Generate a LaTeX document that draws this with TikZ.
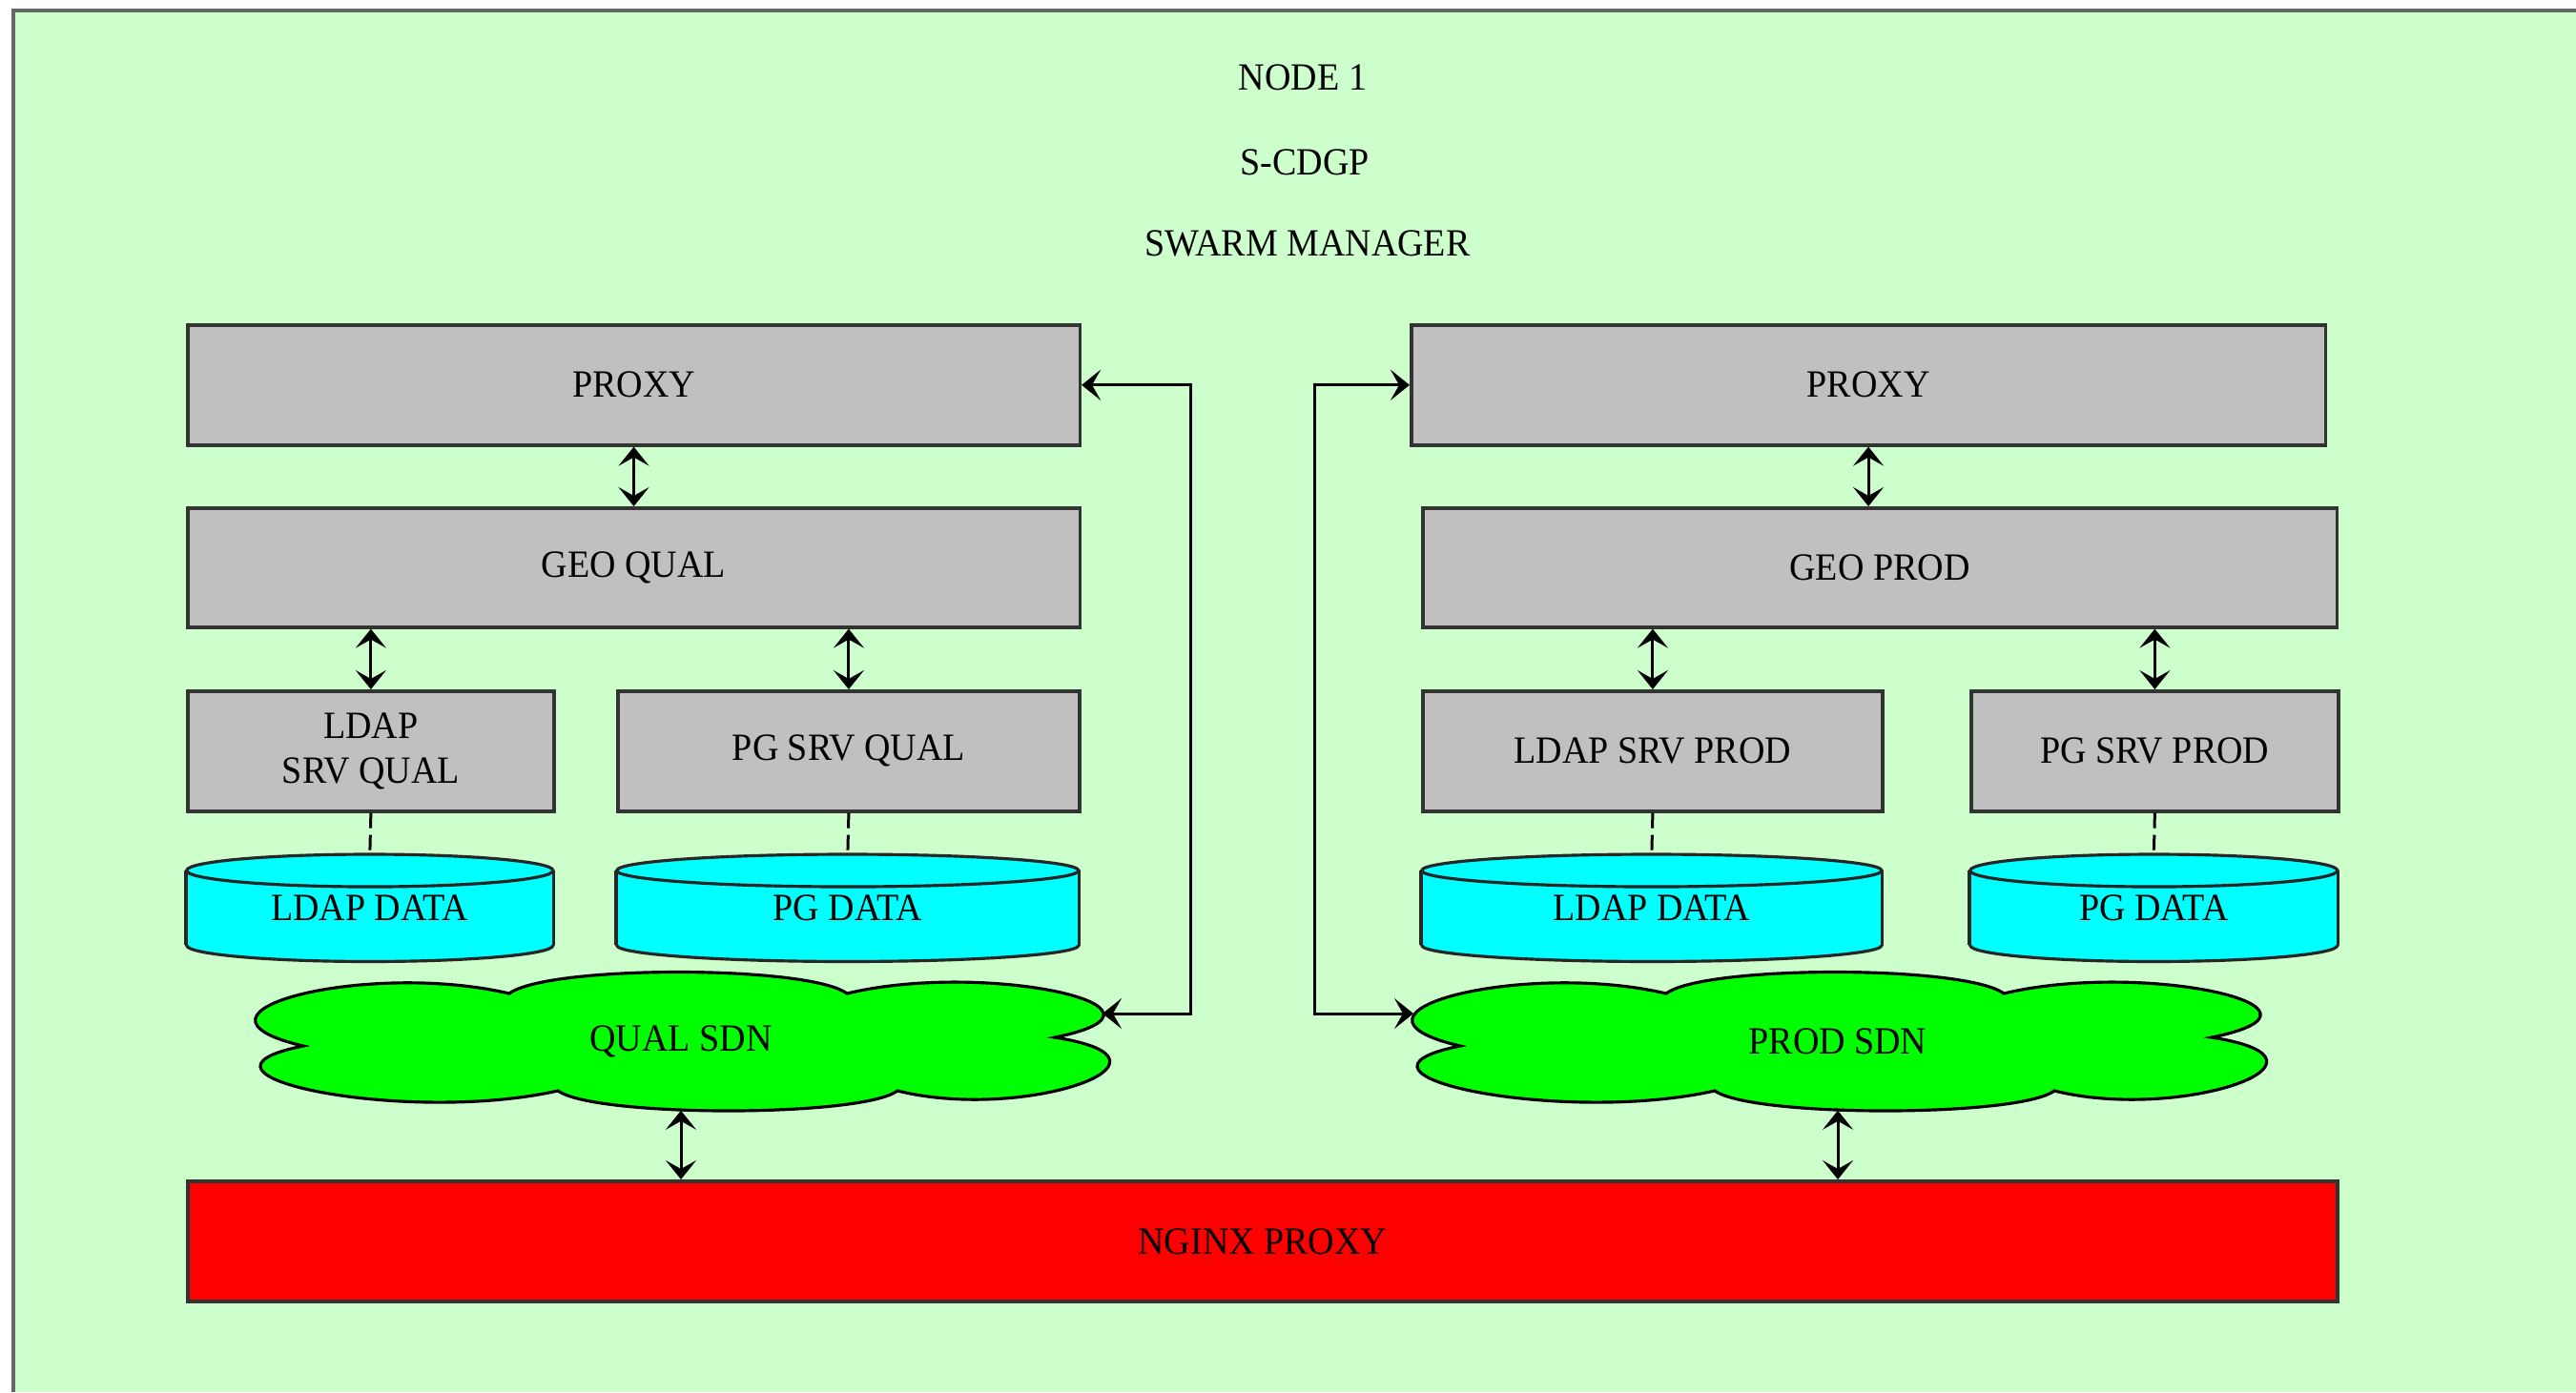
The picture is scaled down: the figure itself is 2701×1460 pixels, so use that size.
\documentclass[tikz,border=0pt]{standalone}
\usepackage{fontspec}
\setmainfont{Liberation Serif}[FakeStretch=0.94]
\usetikzlibrary{arrows.meta,backgrounds,calc}
\definecolor{bgcol}{HTML}{CCFFCC}
\definecolor{boxcol}{HTML}{C0C0C0}
\definecolor{cylcol}{HTML}{00FFFF}
\definecolor{sdncol}{HTML}{00FF00}
\definecolor{nginxcol}{HTML}{FF0000}
\definecolor{framecol}{HTML}{666666}
\def\cylr{0.17cm}
\newcommand\drawcyl[2]{%
  \fill[cylcol] ([yshift=-\cylr]#1.north west) rectangle ([yshift=\cylr]#1.south east);
  \fill[cylcol] ([yshift=\cylr]#1.south) ellipse [x radius=#2, y radius=\cylr];
  \begin{scope}
    \clip ([xshift=-3pt,yshift=\cylr]#1.south west) rectangle ([xshift=3pt,yshift=-3pt]#1.south east);
    \draw[cyledge] ([yshift=\cylr]#1.south) ellipse [x radius=#2, y radius=\cylr];
  \end{scope}
  \draw[cyledge] ([yshift=-\cylr]#1.north west) -- ([yshift=\cylr]#1.south west);
  \draw[cyledge] ([yshift=-\cylr]#1.north east) -- ([yshift=\cylr]#1.south east);
  \draw[cyledge, fill=cylcol] ([yshift=-\cylr]#1.north) ellipse [x radius=#2, y radius=\cylr];
}
\newcommand\drawcloud[1]{%
  \begin{scope}[shift={(#1.center)}]
    \draw[cloudedge] (-396,5) .. controls (-545,-30) and (-330,-85) .. (-180,-50)
      .. controls (-140,-80) and (134,-80) .. (174,-50)
      .. controls (320,-85) and (545,-35) .. (392,-4)
      .. controls (545,20) and (360,85) .. (227,52)
      .. controls (190,80) and (-90,80) .. (-129,52)
      .. controls (-290,88) and (-545,35) .. cycle;
    \coordinate (#1R) at (442,-29);
    \coordinate (#1L) at (-445,-29);
  \end{scope}
}
\begin{document}
\begin{tikzpicture}[x=0.01cm, y=-0.01cm,
  every node/.style={font=\fontsize{11.5}{13.5}\selectfont},
  box/.style={rectangle, draw=black!80, line width=1pt, fill=boxcol, inner sep=0pt,
    anchor=north west, minimum height=1.26cm, align=center},
  cylnode/.style={rectangle, inner sep=0pt, anchor=north west, minimum height=1.11cm},
  cloudnode/.style={inner sep=0pt, minimum width=8.9cm, minimum height=1.44cm},
  cyledge/.style={draw=black!85, line width=0.9pt},
  cloudedge/.style={draw=black, line width=0.9pt, fill=sdncol},
  >={Stealth[length=0.2cm,width=0.32cm,inset=0.09cm]},
  conn/.style={draw=black, line width=0.85pt, <->},
  dashconn/.style={draw=black, line width=0.85pt, dash pattern=on 0.16cm off 0.07cm}]
\useasboundingbox (0,0) rectangle (2701,1460);

% titles
\node (t1) at (1366,81) {NODE 1};
\node (t2) at (1368,170) {S-CDGP};
\node (t3) at (1371,255) {SWARM MANAGER};

% left column
\node[box, minimum width=9.35cm] (proxyL) at (195,339) {PROXY};
\node[box, minimum width=9.35cm, minimum height=1.25cm] (geoL) at (195,531) {GEO QUAL};
\node[box, minimum width=3.84cm] (ldapsL) at (195,723) {LDAP\\SRV QUAL};
\node[box, minimum width=4.84cm] (pgsL) at (646,723) {PG SRV QUAL};
\node[cylnode, minimum width=3.84cm] (ldapdL) at (195,896) {LDAP DATA};
\node[cylnode, minimum width=4.84cm] (pgdL) at (646,896) {PG DATA};
\node[cloudnode] (qsdn) at (714,1092) {QUAL SDN};

% right column
\node[box, minimum width=9.58cm] (proxyR) at (1478,339) {PROXY};
\node[box, minimum width=9.58cm, minimum height=1.25cm] (geoR) at (1490,531) {GEO PROD};
\node[box, minimum width=4.82cm] (ldapsR) at (1490,723) {LDAP SRV PROD};
\node[box, minimum width=3.85cm] (pgsR) at (2065,723) {PG SRV PROD};
\node[cylnode, minimum width=4.82cm] (ldapdR) at (1490,896) {LDAP DATA};
\node[cylnode, minimum width=3.85cm] (pgdR) at (2065,896) {PG DATA};
\node[cloudnode, minimum width=8.85cm] (psdn) at (1927,1092) {PROD SDN};

% nginx
\node[box, minimum width=22.53cm, fill=nginxcol] (nginx) at (195,1237) {NGINX PROXY};

\begin{scope}[on background layer]
  \fill[bgcol] (14,11) rectangle (2701,1460);
  \draw[framecol, line width=1.2pt] (14,1460) -- (14,11) -- (2701,11);
  \drawcyl{ldapdL}{1.92cm}
  \drawcyl{pgdL}{2.42cm}
  \drawcyl{ldapdR}{2.41cm}
  \drawcyl{pgdR}{1.925cm}
  \drawcloud{qsdn}
  \drawcloud{psdn}
\end{scope}

% connectors left
\draw[conn] (proxyL.south) -- (geoL.north);
\draw[conn] (ldapsL.north |- geoL.south) -- (ldapsL.north);
\draw[conn] (pgsL.north |- geoL.south) -- (pgsL.north);
\draw[dashconn] (ldapsL.south) -- (ldapdL.north);
\draw[dashconn] (pgsL.south) -- (pgdL.north);
\draw[conn] (qsdn.south) -- (qsdn.south |- nginx.north);
\draw[conn] (proxyL.east) -- ++(114,0) |- (qsdnR);

% connectors right
\draw[conn] (proxyR.south) -- (proxyR.south |- geoR.north);
\draw[conn] (ldapsR.north |- geoR.south) -- (ldapsR.north);
\draw[conn] (pgsR.north |- geoR.south) -- (pgsR.north);
\draw[dashconn] (ldapsR.south) -- (ldapdR.north);
\draw[dashconn] (pgsR.south) -- (pgdR.north);
\draw[conn] (psdn.south) -- (psdn.south |- nginx.north);
\draw[conn] (proxyR.west) -- ++(-100,0) |- (psdnL);
\end{tikzpicture}
\end{document}
